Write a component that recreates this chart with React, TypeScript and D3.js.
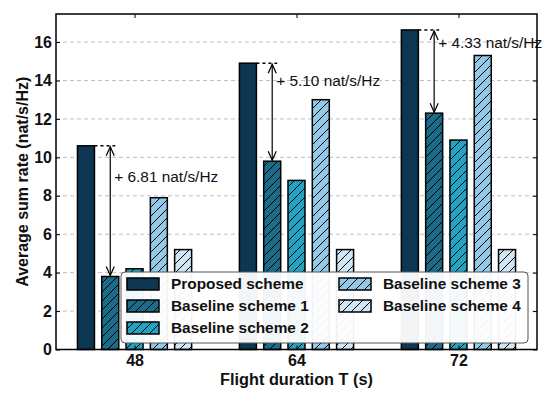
import { useEffect, useRef } from 'react';
import * as d3 from 'd3';

const CATEGORIES = ['48', '64', '72'];
const SERIES_NAMES = ['Proposed scheme', 'Baseline scheme 1', 'Baseline scheme 2', 'Baseline scheme 3', 'Baseline scheme 4'];
const PROPOSED = [10.6, 14.9, 16.63];
const BASELINE_1 = [3.8, 9.8, 12.3];
const BASELINE_2 = [4.2, 8.8, 10.9];
const BASELINE_3 = [7.9, 13.0, 15.3];
const BASELINE_4 = [5.2, 5.2, 5.2];
const GAIN_LABELS = ['+ 6.81 nat/s/Hz', '+ 5.10 nat/s/Hz', '+ 4.33 nat/s/Hz'];
const GAIN_LABEL_Y = [9.0, 14.0, 15.95];
const Y_TICKS = [0, 2, 4, 6, 8, 10, 12, 14, 16];

const COLORS = ['#0c3652', '#1c6b89', '#23a3c1', '#93c9e7', '#d0e6f4'];
const HATCHED = [false, true, true, true, true];
const FONT = 'Liberation Sans, Arial, sans-serif';

export default function App() {
  const svgRef = useRef<SVGSVGElement>(null);

  useEffect(() => {
    const width = 550, height = 402;
    const margin = { top: 14, right: 13, bottom: 52.5, left: 56 };
    const innerW = width - margin.left - margin.right;
    const innerH = height - margin.top - margin.bottom;

    const svg = d3.select(svgRef.current).attr('width', width).attr('height', height);
    svg.selectAll('*').remove();

    const defs = svg.append('defs');
    defs.append('pattern').attr('id', 'hatch').attr('patternUnits', 'userSpaceOnUse')
      .attr('width', 9).attr('height', 9)
      .append('path').attr('d', 'M0,9 L9,0 M-2,2 L2,-2 M7,11 L11,7')
      .attr('stroke', '#000').attr('stroke-width', 1);

    const series = [PROPOSED, BASELINE_1, BASELINE_2, BASELINE_3, BASELINE_4];
    const x = d3.scaleLinear().domain([-0.485, 2.485]).range([0, innerW]);
    const y = d3.scaleLinear().domain([0, 17.46]).range([innerH, 0]);
    const barW = 0.105, step = 0.15;
    const offset = (s: number) => (s - 2) * step;

    const root = svg.append('g').attr('transform', `translate(${margin.left},${margin.top})`);

    // grid
    root.selectAll('.grid').data(Y_TICKS.slice(1)).join('line')
      .attr('x1', 0).attr('x2', innerW).attr('y1', (d) => y(d)).attr('y2', (d) => y(d))
      .attr('stroke', '#b0b0b0').attr('stroke-width', 0.8).attr('stroke-dasharray', '4,3');

    // bars
    series.forEach((vals, s) => {
      const g = root.append('g');
      vals.forEach((v, i) => {
        const x0 = x(i + offset(s) - barW / 2), x1 = x(i + offset(s) + barW / 2);
        g.append('rect').attr('x', x0).attr('y', y(v)).attr('width', x1 - x0).attr('height', y(0) - y(v))
          .attr('fill', COLORS[s]).attr('stroke', '#000').attr('stroke-width', 1.5);
        if (HATCHED[s]) {
          g.append('rect').attr('x', x0).attr('y', y(v)).attr('width', x1 - x0).attr('height', y(0) - y(v))
            .attr('fill', 'url(#hatch)').attr('stroke', 'none');
        }
      });
    });

    // annotations
    const ann = root.append('g');
    PROPOSED.forEach((p, i) => {
      const b = BASELINE_1[i];
      const ax = x(i + offset(1));
      ann.append('line').attr('x1', x(i + offset(0) + barW / 2)).attr('x2', ax + 5)
        .attr('y1', y(p)).attr('y2', y(p)).attr('stroke', '#000').attr('stroke-width', 1.5)
        .attr('stroke-dasharray', '3,3');
      const yt = y(p) + 1, yb = y(b) - 1;
      ann.append('line').attr('x1', ax).attr('x2', ax).attr('y1', yt).attr('y2', yb)
        .attr('stroke', '#000').attr('stroke-width', 1.2);
      ann.append('path').attr('d', `M${ax - 4},${yt + 9} L${ax},${yt} L${ax + 4},${yt + 9}`)
        .attr('fill', 'none').attr('stroke', '#000').attr('stroke-width', 1.2);
      ann.append('path').attr('d', `M${ax - 4},${yb - 9} L${ax},${yb} L${ax + 4},${yb - 9}`)
        .attr('fill', 'none').attr('stroke', '#000').attr('stroke-width', 1.2);
      ann.append('text').attr('x', ax + 4).attr('y', y(GAIN_LABEL_Y[i])).attr('dy', '0.35em')
        .attr('font-family', FONT).attr('font-size', 15.4).attr('fill', '#111')
        .text(GAIN_LABELS[i]);
    });

    // legend
    const leg = root.append('g').attr('transform', `translate(${121 - margin.left},${272 - margin.top})`);
    leg.append('rect').attr('width', 407).attr('height', 71).attr('rx', 4)
      .attr('fill', '#fff').attr('fill-opacity', 0.95).attr('stroke', '#555').attr('stroke-width', 1);
    SERIES_NAMES.forEach((name, s) => {
      const col = s < 3 ? 0 : 1, row = s < 3 ? s : s - 3;
      const hx = col === 0 ? 6 : 218, cy = 12 + row * 22;
      leg.append('rect').attr('x', hx).attr('y', cy - 6).attr('width', 32).attr('height', 12)
        .attr('fill', COLORS[s]).attr('stroke', '#000').attr('stroke-width', 1.5);
      if (HATCHED[s]) {
        leg.append('rect').attr('x', hx).attr('y', cy - 6).attr('width', 32).attr('height', 12)
          .attr('fill', 'url(#hatch)');
      }
      leg.append('text').attr('x', hx + 44).attr('y', cy).attr('dy', '0.35em')
        .attr('font-family', FONT).attr('font-size', 15.4).attr('font-weight', 'bold').attr('fill', '#111')
        .text(name);
    });

    // axes
    const yAxis = root.append('g').call(d3.axisLeft(y).tickValues(Y_TICKS).tickSize(-4).tickPadding(4));
    const yAxisR = root.append('g').attr('transform', `translate(${innerW},0)`)
      .call(d3.axisRight(y).tickValues(Y_TICKS).tickSize(-4).tickFormat(() => ''));
    const xTicks = CATEGORIES.map((_, i) => i);
    const xAxis = root.append('g').attr('transform', `translate(0,${innerH})`)
      .call(d3.axisBottom(x).tickValues(xTicks).tickSize(-4).tickPadding(5).tickFormat((d) => CATEGORIES[d as number]));
    const xAxisT = root.append('g')
      .call(d3.axisTop(x).tickValues(xTicks).tickSize(-4).tickFormat(() => ''));
    [yAxis, yAxisR, xAxis, xAxisT].forEach((a) => {
      a.select('.domain').remove();
      a.selectAll('line').attr('stroke', '#000').attr('stroke-width', 1);
      a.selectAll('text').attr('font-family', FONT).attr('font-size', 16).attr('font-weight', 'bold').attr('fill', '#111');
    });
    root.append('rect').attr('width', innerW).attr('height', innerH)
      .attr('fill', 'none').attr('stroke', '#000').attr('stroke-width', 1.5);

    svg.append('text').attr('transform', `translate(22,${margin.top + innerH / 2}) rotate(-90)`)
      .attr('text-anchor', 'middle').attr('dy', '0.35em')
      .attr('font-family', FONT).attr('font-size', 16).attr('font-weight', 'bold').attr('fill', '#111')
      .text('Average sum rate (nat/s/Hz)');
    svg.append('text').attr('x', margin.left + innerW / 2).attr('y', 385)
      .attr('text-anchor', 'middle')
      .attr('font-family', FONT).attr('font-size', 16.3).attr('font-weight', 'bold').attr('fill', '#111')
      .text('Flight duration T (s)');
  }, []);

  return <svg ref={svgRef} style={{ position: 'fixed', left: 0, top: 0, display: 'block', background: '#fff' }} />;
}
